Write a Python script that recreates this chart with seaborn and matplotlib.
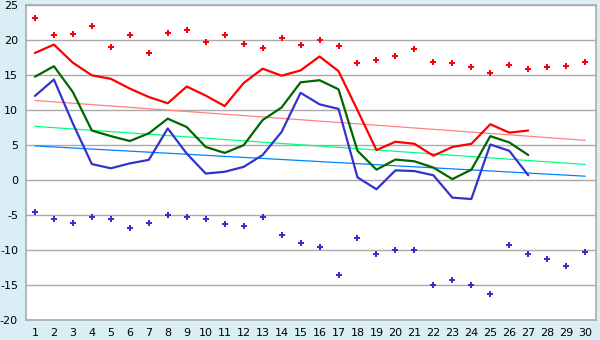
import numpy as np
import pandas as pd
import matplotlib
matplotlib.use("Agg")
import matplotlib.pyplot as plt
import seaborn as sns

# Daily temperatures for the month (°C)
days = list(range(1, 31))
obs_days = list(range(1, 28))

t_max = [18.2, 19.4, 16.8, 15.0, 14.5, 13.1, 11.9, 11.0, 13.4, 12.1,
         10.6, 13.9, 15.95, 14.95, 15.7, 17.7, 15.6, 10.0, 4.3, 5.5,
         5.2, 3.5, 4.75, 5.2, 8.0, 6.8, 7.1]
t_mean = [14.8, 16.3, 12.6, 7.1, 6.3, 5.6, 6.7, 8.8, 7.6, 4.75,
          3.9, 5.0, 8.6, 10.4, 14.0, 14.3, 13.0, 4.2, 1.5, 2.95,
          2.7, 1.8, 0.15, 1.5, 6.3, 5.4, 3.6]
t_min = [12.05, 14.4, 8.1, 2.3, 1.7, 2.4, 2.9, 7.4, 3.8, 0.95,
         1.2, 1.9, 3.6, 6.9, 12.5, 10.85, 10.2, 0.4, -1.3, 1.4,
         1.3, 0.7, -2.5, -2.7, 5.1, 4.2, 0.7]

# Record extremes for each calendar day
record_max = [23.2, 20.8, 20.95, 22.0, 19.1, 20.7, 18.2, 21.1, 21.5, 19.7,
              20.7, 19.5, 18.95, 20.4, 19.4, 20.0, 19.2, 16.7, 17.2, 17.8,
              18.7, 16.95, 16.7, 16.2, 15.4, 16.5, 15.95, 16.2, 16.4, 16.95]
record_min = [-4.6, -5.5, -6.2, -5.2, -5.6, -6.9, -6.2, -5.05, -5.3, -5.6,
              -6.3, -6.6, -5.2, -7.8, -9.05, -9.6, -13.6, -8.3, -10.6, -10.0,
              -10.0, -15.05, -14.3, -15.0, -16.3, -9.3, -10.5, -11.3, -12.3, -10.3]

# Long-term normals: values at first and last day of the month
trend_days = [1, 30]
normal_max = [11.4, 5.7]
normal_mean = [7.7, 2.25]
normal_min = [4.9, 0.57]

y_ticks = list(range(-20, 30, 5))

sns.set_theme(style="white")
plt.rcParams["font.family"] = ["DejaVu Sans"]
plt.rcParams["axes.unicode_minus"] = False

fig = plt.figure(figsize=(6.0, 3.4), dpi=100, facecolor="#D9EEF5")
ax = fig.add_axes([0.044, 0.059, 0.949, 0.925])
ax.set_facecolor("white")

obs = pd.DataFrame({"day": obs_days, "max": t_max, "mean": t_mean, "min": t_min})
rec = pd.DataFrame({"day": days, "rmax": record_max, "rmin": record_min})
trend = pd.DataFrame({"day": trend_days, "nmax": normal_max,
                      "nmean": normal_mean, "nmin": normal_min})

for col, c in [("nmax", "#FF8080"), ("nmean", "#00FF80"), ("nmin", "#0080FF")]:
    sns.lineplot(data=trend, x="day", y=col, ax=ax, color=c, lw=0.9, zorder=3)

for col, c in [("max", "#FF0000"), ("mean", "#006600"), ("min", "#3333CC")]:
    sns.lineplot(data=obs, x="day", y=col, ax=ax, color=c, lw=1.6, zorder=4)

sns.scatterplot(data=rec, x="day", y="rmax", ax=ax, color="#FF0000",
                marker="P", s=16, linewidth=0, zorder=5)
sns.scatterplot(data=rec, x="day", y="rmin", ax=ax, color="#3333CC",
                marker="P", s=16, linewidth=0, zorder=5)

ax.set_xlim(0.55, 30.56)
ax.set_ylim(-20, 25)
ax.set_xticks(days)
ax.set_yticks(y_ticks)
ax.set_xlabel("")
ax.set_ylabel("")
ax.yaxis.grid(True, color="#AAAAAA", lw=1.0)
ax.xaxis.grid(False)
ax.set_axisbelow(True)
for s in ax.spines.values():
    s.set_color("#AAAAAA")
    s.set_linewidth(1.2)
ax.tick_params(axis="both", which="major", labelsize=8, colors="black",
               length=4, width=0.8, direction="out", pad=2)

fig.savefig("out.png", dpi=100, facecolor=fig.get_facecolor())
